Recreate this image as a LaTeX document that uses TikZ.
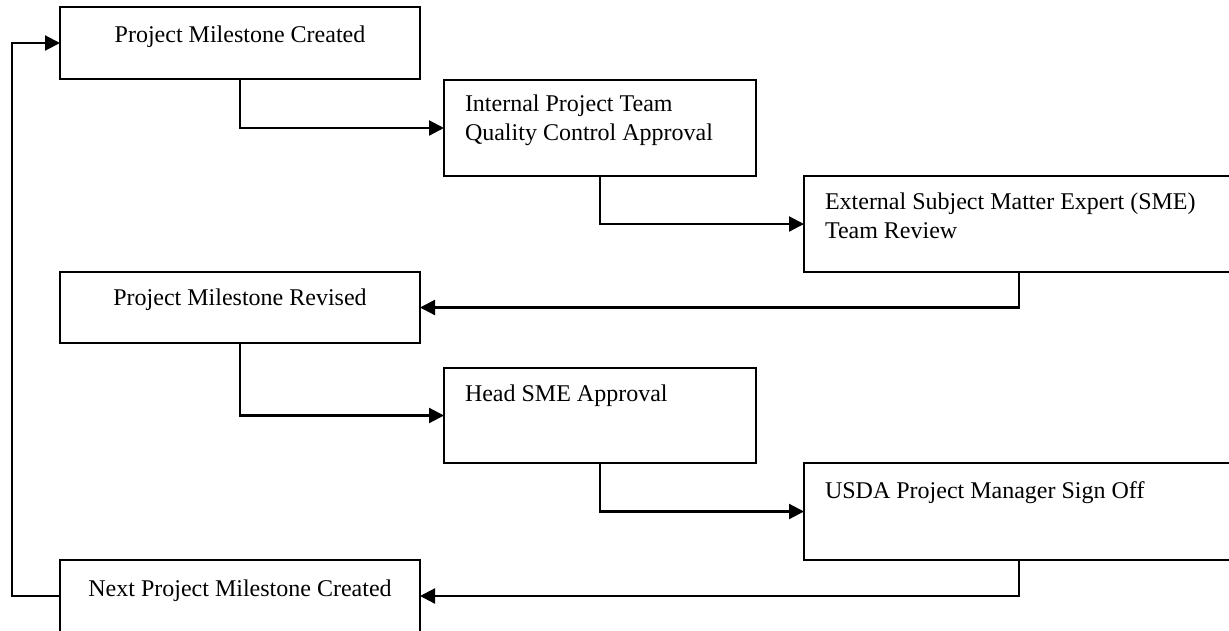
\documentclass[tikz,border=0pt]{standalone}
\usepackage{fontspec}
\setmainfont{Liberation Serif}
\usetikzlibrary{arrows.meta}
\begin{document}
\begin{tikzpicture}[x=1pt,y=-1pt,
  box/.style={draw=black, line width=2.6pt, rectangle, inner sep=0pt, outer sep=0pt, fill=none},
  lbl/.style={inner sep=0pt, outer sep=0pt, font=\fontsize{24}{29}\selectfont},
  conn/.style={draw=black, line width=2.2pt, -{Triangle[length=15pt,width=15pt]}}]
\useasboundingbox (0,0) rectangle (1229,630);
\clip (0,0) rectangle (1229,630);
% boxes
\node[box, minimum width=360pt, minimum height=72pt] (b1) at (240,43) {};
\node[box, minimum width=312pt, minimum height=96pt] (b2) at (600,128) {};
\node[box, minimum width=430pt, minimum height=96pt] (b3) at (1019,224) {};
\node[box, minimum width=360pt, minimum height=71pt] (b4) at (240,307.5) {};
\node[box, minimum width=312pt, minimum height=95pt] (b5) at (600,415.5) {};
\node[box, minimum width=430pt, minimum height=97pt] (b6) at (1019,511.5) {};
\node[box, minimum width=360pt, minimum height=72pt] (b7) at (240,596) {};
% texts
\node[lbl, anchor=base] (t1) at (240,42) {Project Milestone Created};
\node[lbl, anchor=base west, align=left] (t2) at (465,140) {Internal Project Team\\Quality Control Approval};
\node[lbl, anchor=base west, align=left] (t3) at (825,238) {External Subject Matter Expert (SME)\\Team Review};
\node[lbl, anchor=base] (t4) at (240,305) {Project Milestone Revised};
\node[lbl, anchor=base west] (t5) at (465,401) {Head SME Approval};
\node[lbl, anchor=base west] (t6) at (825,498) {USDA Project Manager Sign Off};
\node[lbl, anchor=base] (t7) at (240,596) {Next Project Milestone Created};
% connectors
\draw[conn] (b1.south) |- (b2.west);
\draw[conn] (b2.south) |- (b3.west);
\draw[conn] (b3.south) |- (b4.east);
\draw[conn] (b4.south) |- (b5.west);
\draw[conn] (b5.south) |- (b6.west);
\draw[conn] (b6.south) |- (b7.east);
\coordinate (loop) at (12,596);
\draw[conn] (b7.west) -- (loop) |- (b1.west);
\end{tikzpicture}
\end{document}
